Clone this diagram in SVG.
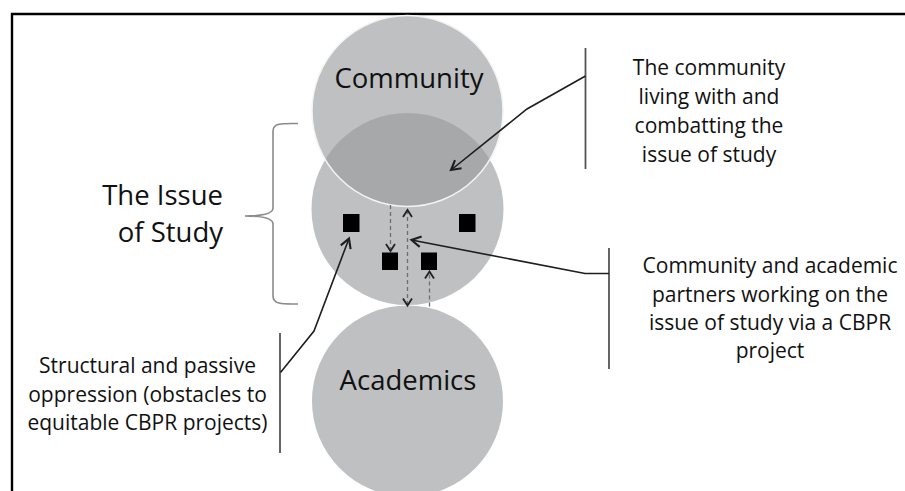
<svg xmlns="http://www.w3.org/2000/svg" width="905" height="491" viewBox="0 0 905 491">
<style>
.circ{fill:#bec0c2}
.lbl{font-family:"Open Sans","Noto Sans",sans-serif;fill:#111}
.big{font-size:27.5px}
.sm{font-size:21px}
.solid{fill:none;stroke:#1e1e1e;stroke-width:1.6}
.dash{fill:none;stroke:#6e6e6e;stroke-width:1.3;stroke-dasharray:4 3}
.bar{fill:none;stroke:#555;stroke-width:1.8}
.sq{fill:#000}
</style>
<defs>
<clipPath id="commClip"><circle cx="407.5" cy="111" r="95.5"/></clipPath>
<marker id="ah" markerUnits="userSpaceOnUse" markerWidth="14" markerHeight="14" refX="10" refY="6" orient="auto-start-reverse" viewBox="0 0 12 12">
<path d="M2,1.5 L10,6 L2,10.5" fill="none" stroke="#1e1e1e" stroke-width="1.8"/>
</marker>
<marker id="ahd" markerUnits="userSpaceOnUse" markerWidth="12" markerHeight="12" refX="10" refY="6" orient="auto-start-reverse" viewBox="0 0 12 12">
<path d="M3,1.5 L10,6 L3,10.5" fill="none" stroke="#222" stroke-width="1.8"/>
</marker>
</defs>
<rect width="905" height="491" fill="#fff"/>
<path d="M12,491 L12,14 L905,14" fill="none" stroke="#000" stroke-width="2.4"/>

<g id="issue">
<circle class="circ" cx="407.5" cy="209" r="96"/>
</g>
<g id="community">
<circle class="circ" cx="407.5" cy="111" r="95.5"/>
<circle cx="407.5" cy="209" r="96" fill="#a7a8aa" clip-path="url(#commClip)"/>
<circle cx="407.5" cy="111" r="95.5" fill="none" stroke="#f4f4f4" stroke-width="1.5"/>
<text class="lbl big" x="409" y="88" text-anchor="middle">Community</text>
</g>
<g id="academics">
<circle class="circ" cx="407.5" cy="401" r="95.5"/>
<text class="lbl big" x="408" y="390" text-anchor="middle">Academics</text>
</g>

<g id="squares">
<rect class="sq" x="343" y="214" width="16.5" height="18"/>
<rect class="sq" x="459" y="214" width="16.5" height="18"/>
<rect class="sq" x="382" y="252.5" width="16" height="17.5"/>
<rect class="sq" x="421" y="252.5" width="16" height="17.5"/>
</g>

<g id="issue-label">
<path d="M298,123.5 C284,123.5 273,122.5 273,131 L273,208 C273,213.5 263,216 245,216 C263,216 273,218.5 273,224 L273,296 C273,305 284,304 298,304" fill="none" stroke="#8a8a8a" stroke-width="1.6"/>
<text class="lbl big" x="223" y="205" text-anchor="end">The Issue</text>
<text class="lbl big" x="223" y="242" text-anchor="end">of Study</text>
</g>

<g id="note-community">
<line class="bar" x1="585.5" y1="48" x2="585.5" y2="169"/>
<text class="lbl sm" text-anchor="middle"><tspan x="709" y="75">The community</tspan><tspan x="709" y="104">living with and</tspan><tspan x="709" y="133">combatting the</tspan><tspan x="709" y="162">issue of study</tspan></text>
</g>

<g id="note-partners">
<line class="bar" x1="609" y1="248" x2="609" y2="369"/>
<text class="lbl sm" text-anchor="middle"><tspan x="770" y="273">Community and academic</tspan><tspan x="770" y="302">partners working on the</tspan><tspan x="770" y="330">issue of study via a CBPR</tspan><tspan x="770" y="358">project</tspan></text>
</g>

<g id="note-oppression">
<line class="bar" x1="280" y1="333" x2="280" y2="453"/>
<text class="lbl sm" text-anchor="middle"><tspan x="147.5" y="373">Structural and passive</tspan><tspan x="147.5" y="402">oppression (obstacles to</tspan><tspan x="147.5" y="430">equitable CBPR projects)</tspan></text>
</g>

<g id="connectors">
<polyline class="solid" points="585.5,76 527,109 451,170" marker-end="url(#ah)"/>
<polyline class="solid" points="609,273.5 585,273.5 411.5,240" marker-end="url(#ah)"/>
<polyline class="solid" points="280.5,372.5 314,331 349,238.5" marker-end="url(#ah)"/>
<line class="dash" x1="390.5" y1="205" x2="390.5" y2="251" marker-end="url(#ahd)"/>
<line class="dash" x1="407.5" y1="210" x2="407.5" y2="305.5" marker-start="url(#ahd)" marker-end="url(#ahd)"/>
<line class="dash" x1="429.5" y1="306.5" x2="429.5" y2="271.5" marker-end="url(#ahd)"/>
</g>
</svg>
